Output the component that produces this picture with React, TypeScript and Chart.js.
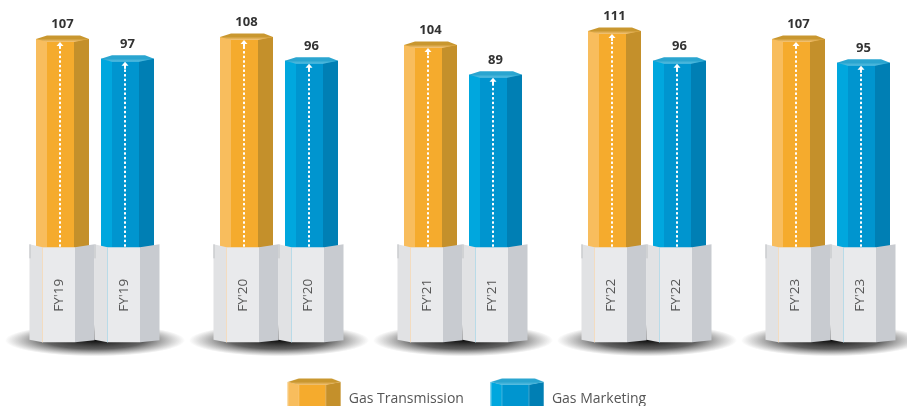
import React, { useEffect, useRef } from "react";
import { Chart, registerables } from "chart.js";

Chart.register(...registerables);

const categories = ["FY'19", "FY'20", "FY'21", "FY'22", "FY'23"];
const gasTransmission = [107, 108, 104, 111, 107];
const gasMarketing = [97, 96, 89, 96, 95];

const orange = { left: "#f8bd5d", front: "#f5ab2d", right: "#c4902b", cap: "#c9972f", rim: "#f4c478" };
const blue = { left: "#00a7de", front: "#0095cf", right: "#007fb4", cap: "#2aa5d0", rim: "#5cc0e2" };
const FONT = "'Open Sans', sans-serif";

function poly(ctx: CanvasRenderingContext2D, pts: number[][], fill: string | CanvasGradient) {
  ctx.beginPath();
  pts.forEach((p, i) => (i ? ctx.lineTo(p[0], p[1]) : ctx.moveTo(p[0], p[1])));
  ctx.closePath();
  ctx.fillStyle = fill;
  ctx.fill();
}

function drawPrism(ctx: CanvasRenderingContext2D, c: number, top: number, bottom: number, pal: typeof orange) {
  const l = c - 26.5, fl = c - 15.5, fr = c + 11.5, r = c + 26.5;
  poly(ctx, [[l, top], [fl, top + 2.5], [fl, bottom], [l, bottom]], pal.left);
  poly(ctx, [[fl, top + 2.5], [fr, top + 2.5], [fr, bottom], [fl, bottom]], pal.front);
  poly(ctx, [[fr, top + 2.5], [r, top], [r, bottom], [fr, bottom]], pal.right);
  const g = ctx.createLinearGradient(0, top - 3.5, 0, top + 3);
  g.addColorStop(0, pal.cap);
  g.addColorStop(0.5, pal.cap);
  g.addColorStop(1, pal.rim);
  poly(ctx, [[l, top], [c - 15.5, top - 3.5], [c + 17.5, top - 3.5], [r, top], [fr, top + 3], [fl, top + 3]], g);
}

function legendMarker(pal: typeof orange) {
  const cv = document.createElement("canvas");
  cv.width = 54;
  cv.height = 42;
  const ctx = cv.getContext("2d")!;
  drawPrism(ctx, 27, 4, 42, pal);
  return cv;
}

const prismPlugin = {
  id: "prisms",
  afterLayout(chart: any) {
    chart.legend.left += 3.5;
    chart.legend.right += 3.5;
  },
  beforeDatasetsDraw(chart: any) {
    const ctx = chart.ctx as CanvasRenderingContext2D;
    const xs = chart.scales.x;
    const base = chart.scales.y.getPixelForValue(0);
    categories.forEach((_, i) => {
      const cx = xs.getPixelForValue(i);
      ctx.save();
      ctx.translate(cx, base + 88);
      ctx.scale(1, 16 / 90);
      const g = ctx.createRadialGradient(0, 0, 0, 0, 0, 90);
      g.addColorStop(0, "rgba(0,0,0,0.95)");
      g.addColorStop(0.55, "rgba(30,30,30,0.7)");
      g.addColorStop(1, "rgba(60,60,60,0)");
      ctx.fillStyle = g;
      ctx.beginPath();
      ctx.arc(0, 0, 90, 0, Math.PI * 2);
      ctx.fill();
      ctx.restore();
    });
  },
  afterDatasetsDraw(chart: any) {
    const ctx = chart.ctx as CanvasRenderingContext2D;
    const base = chart.scales.y.getPixelForValue(0);
    const pedTop = base - 8;
    const pedFront = base - 5;
    const pedBot = base + 90;
    chart.data.datasets.forEach((ds: any, di: number) => {
      const pal = di === 0 ? orange : blue;
      chart.getDatasetMeta(di).data.forEach((bar: any, i: number) => {
        const c = bar.x;
        const top = bar.y;
        drawPrism(ctx, c, top, pedFront, pal);
        // dotted arrow
        ctx.fillStyle = "#ffffff";
        const ax = c - 2.5;
        for (let y = pedFront - 1; y > top + 10; y -= 4.6) ctx.fillRect(ax - 1, y - 2, 2, 2.4);
        ctx.fillRect(ax - 1, top + 6, 2, 4);
        poly(ctx, [[ax, top + 3], [ax + 3.5, top + 7], [ax - 3.5, top + 7]], "#ffffff");
        // value label
        ctx.fillStyle = "#333333";
        ctx.font = `700 13px ${FONT}`;
        ctx.textAlign = "center";
        ctx.textBaseline = "middle";
        ctx.fillText(String(ds.data[i]), c, top - 14.5);
        // pedestal
        poly(ctx, [[c - 33, pedTop], [c - 20, pedFront], [c - 20, pedBot], [c - 33, pedBot - 2.5]], "#e1e2e4");
        poly(ctx, [[c - 20, pedFront], [c + 12.5, pedFront], [c + 12.5, pedBot], [c - 20, pedBot]], "#e9eaec");
        poly(ctx, [[c + 12.5, pedFront], [c + 32, pedTop], [c + 32, pedBot - 2], [c + 12.5, pedBot]], "#c8cbd0");
        ctx.fillStyle = di === 0 ? "#f3dcc0" : "#b9dbe8";
        ctx.fillRect(c - 20.5, pedFront, 1, pedBot - pedFront);
        ctx.fillStyle = "#bfc1c4";
        ctx.fillRect(c - 33, pedTop, 1, 14);
        ctx.save();
        ctx.translate(c - 3.5, base + 43);
        ctx.rotate(-Math.PI / 2);
        ctx.fillStyle = "#555555";
        ctx.font = `400 13.5px ${FONT}`;
        ctx.fillText(chart.data.labels[i], 0, 0);
        ctx.restore();
      });
    });
  },
};

export default function App() {
  const ref = useRef<HTMLCanvasElement>(null);
  useEffect(() => {
    const chart = new Chart(ref.current!, {
      type: "bar",
      data: {
        labels: categories,
        datasets: [
          { label: "Gas Transmission", data: gasTransmission, backgroundColor: orange.front },
          { label: "Gas Marketing", data: gasMarketing, backgroundColor: blue.front },
        ],
      },
      options: {
        responsive: false,
        animation: false,
        categoryPercentage: 130 / 184,
        barPercentage: 53 / 65,
        layout: { padding: { left: 3, right: 0, top: 0, bottom: 0 } },
        scales: {
          x: { display: false, offset: true, grid: { display: false } },
          y: { display: false, min: -57, max: 126.5 },
        },
        plugins: {
          tooltip: { enabled: false },
          legend: {
            position: "bottom",
            labels: {
              usePointStyle: true,
              pointStyleWidth: 55,
              padding: 26,
              color: "#555555",
              font: { family: "'Open Sans', sans-serif", size: 14 },
              generateLabels: (c: any) =>
                c.data.datasets.map((d: any, i: number) => ({
                  text: d.label,
                  datasetIndex: i,
                  fontColor: "#555555",
                  fillStyle: d.backgroundColor,
                  lineWidth: 0,
                  pointStyle: legendMarker(i === 0 ? orange : blue),
                })),
            },
          },
        },
      } as any,
      plugins: [prismPlugin],
    });
    return () => chart.destroy();
  }, []);
  return (
    <div style={{ position: "absolute", left: 0, top: 0, width: 907, height: 406, overflow: "hidden" }}>
      <canvas ref={ref} width={923} height={416} style={{ display: "block" }} />
    </div>
  );
}
